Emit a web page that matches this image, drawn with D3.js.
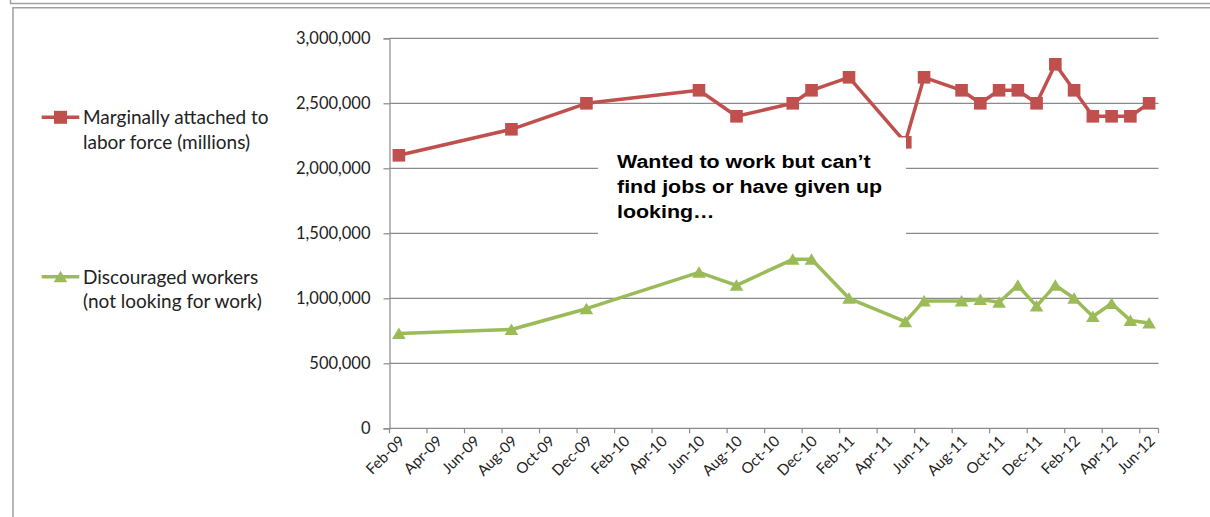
<!DOCTYPE html>
<html><head><meta charset="utf-8">
<script src="https://cdn.jsdelivr.net/npm/d3@7"></script>
<style>body{margin:0;background:#fff} svg{display:block}</style>
</head><body><svg id="c" width="1210" height="517"></svg>
<script>
// ---- data ----
const months = ["Feb-09","Mar-09","Apr-09","May-09","Jun-09","Jul-09","Aug-09","Sep-09","Oct-09","Nov-09","Dec-09","Jan-10",
  "Feb-10","Mar-10","Apr-10","May-10","Jun-10","Jul-10","Aug-10","Sep-10","Oct-10","Nov-10","Dec-10","Jan-11",
  "Feb-11","Mar-11","Apr-11","May-11","Jun-11","Jul-11","Aug-11","Sep-11","Oct-11","Nov-11","Dec-11","Jan-12",
  "Feb-12","Mar-12","Apr-12","May-12","Jun-12"];
const tickLabels = ["Feb-09","Apr-09","Jun-09","Aug-09","Oct-09","Dec-09","Feb-10","Apr-10","Jun-10","Aug-10","Oct-10",
  "Dec-10","Feb-11","Apr-11","Jun-11","Aug-11","Oct-11","Dec-11","Feb-12","Apr-12","Jun-12"];
const dates = ["Feb-09","Aug-09","Dec-09","Jun-10","Aug-10","Nov-10","Dec-10","Feb-11","May-11","Jun-11","Aug-11",
  "Sep-11","Oct-11","Nov-11","Dec-11","Jan-12","Feb-12","Mar-12","Apr-12","May-12","Jun-12"];
const marginal = [2100000,2300000,2500000,2600000,2400000,2500000,2600000,2700000,2200000,2700000,2600000,
  2500000,2600000,2600000,2500000,2800000,2600000,2400000,2400000,2400000,2500000];
const discouraged = [730000,760000,920000,1200000,1100000,1300000,1300000,1000000,820000,980000,980000,
  990000,970000,1100000,940000,1100000,1000000,860000,960000,830000,810000];
const yTicks = [0,500000,1000000,1500000,2000000,2500000,3000000];
const seriesNames = ["Marginally attached to|labor force (millions)","Discouraged workers|(not looking for work)"];
const noteLines = ["Wanted to work but can’t","find jobs or have given up","looking…"];

// ---- drawing ----
const svg = d3.select("#c");
const RED = "#C0504D", GREEN = "#9BBB59", GRID = "#8a8a8a";
const FONT = "Lato, 'Open Sans', sans-serif";

// frames
svg.append("path").attr("d","M10.5,0 V3.5 H1210").attr("fill","none").attr("stroke","#a0a0a0").attr("stroke-width",1.5);
svg.append("path").attr("d","M13,517 V7.7 H1210").attr("fill","none").attr("stroke","#a0a0a0").attr("stroke-width",1.5);

const x = d3.scaleBand().domain(months).range([389.5, 1158.5]).padding(0);
const xc = m => x(m) + x.bandwidth()/2;
const y = d3.scaleLinear().domain([0,3000000]).range([428.3, 38.3]);

// gridlines
svg.append("g").selectAll("line").data(yTicks.filter(d=>d>0)).join("line")
  .attr("x1",389.5).attr("x2",1158.5).attr("y1",d=>y(d)).attr("y2",d=>y(d))
  .attr("stroke",GRID).attr("stroke-width",1.2);

// y axis
const yAxis = svg.append("g").attr("transform","translate(389.5,0)")
  .call(d3.axisLeft(y).tickValues(yTicks).tickFormat(d3.format(",")).tickSize(6).tickPadding(13));
yAxis.select(".domain").attr("stroke",GRID).attr("stroke-width",1.2);
yAxis.selectAll(".tick line").attr("stroke",GRID).attr("stroke-width",1.2);
yAxis.selectAll("text").attr("font-family",FONT).attr("font-size",16.5).attr("fill","#222");

// x axis
const xAxisG = svg.append("g").attr("transform","translate(0,428.3)");
xAxisG.append("line").attr("x1",389.5).attr("x2",1158.5).attr("stroke",GRID).attr("stroke-width",1.2);
const tickPos = tickLabels.map(t => x(t)).concat([x.range()[1]]);
xAxisG.selectAll("line.tk").data(tickPos).join("line").attr("class","tk")
  .attr("x1",d=>d).attr("x2",d=>d).attr("y1",0).attr("y2",5).attr("stroke",GRID).attr("stroke-width",1.2);
xAxisG.selectAll("text").data(tickLabels).join("text")
  .attr("transform",t=>`translate(${xc(t)+3},${10}) rotate(-45)`)
  .attr("text-anchor","end").attr("dy","0.35em")
  .attr("font-family",FONT).attr("font-size",15).attr("fill","#222").text(t=>t);

// series
function drawSeries(vals, color, shape){
  const pts = dates.map((d,i)=>[xc(d), y(vals[i])]);
  svg.append("path").attr("d", d3.line()(pts)).attr("fill","none").attr("stroke",color)
    .attr("stroke-width",3.5).attr("stroke-linejoin","round");
  const g = svg.append("g");
  pts.forEach(p=>{
    if(shape==="square"){
      g.append("rect").attr("x",p[0]-6.3).attr("y",p[1]-6.3).attr("width",12.6).attr("height",12.6).attr("fill",color);
    } else {
      g.append("path").attr("d",`M${p[0]},${p[1]-6} L${p[0]+6.8},${p[1]+5.5} L${p[0]-6.8},${p[1]+5.5} Z`).attr("fill",color);
    }
  });
}
drawSeries(marginal, RED, "square");
drawSeries(discouraged, GREEN, "triangle");

// note box
svg.append("rect").attr("x",598).attr("y",137.5).attr("width",308).attr("height",108).attr("fill","#fff");
svg.append("g").attr("transform","translate(617,0) scale(1.19,1)").selectAll("text").data(noteLines).join("text")
  .attr("x",0).attr("y",(d,i)=>168.3+i*25)
  .attr("font-family","'Liberation Sans', Arial, sans-serif").attr("font-weight","bold").attr("font-size",18)
  .attr("fill","#000").text(d=>d);

// legend
const legY = [117.3, 276.7];
seriesNames.forEach((nm,i)=>{
  const col = i===0?RED:GREEN;
  const g = svg.append("g");
  g.append("line").attr("x1",41.7).attr("x2",79.3).attr("y1",legY[i]).attr("y2",legY[i]).attr("stroke",col).attr("stroke-width",3.5);
  if(i===0) g.append("rect").attr("x",60.5-6.5).attr("y",legY[i]-6.5).attr("width",13).attr("height",13).attr("fill",col);
  else g.append("path").attr("d",`M60.5,${legY[i]-6} L67.3,${legY[i]+5.5} L53.7,${legY[i]+5.5} Z`).attr("fill",col);
  nm.split("|").forEach((ln,j)=>{
    g.append("text").attr("x",83).attr("y",legY[i]+6.8+j*24.7).attr("font-family",FONT).attr("font-size",19)
      .attr("fill","#222").text(ln);
  });
});
</script></body></html>
